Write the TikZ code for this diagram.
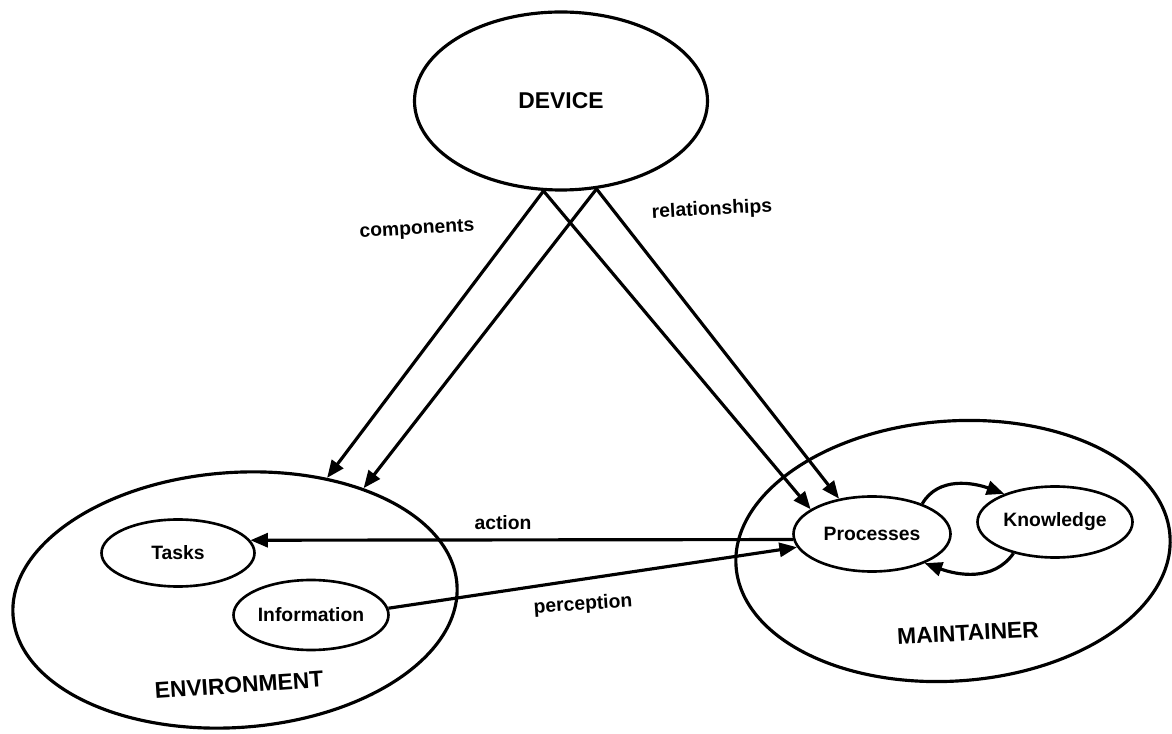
\documentclass[tikz,border=0pt]{standalone}
\usepackage{fontspec}
\setmainfont{Liberation Sans}
\usetikzlibrary{shapes.geometric, arrows.meta}

\begin{document}
\begin{tikzpicture}
\tikzstyle{realm} = [ellipse, draw=black, line width=1.8pt, inner sep=0pt, font=\bfseries\fontsize{13}{15}\selectfont]
\tikzstyle{part} = [ellipse, draw=black, line width=1.5pt, minimum width=3.1cm, minimum height=1.42cm, inner sep=0pt, font=\bfseries\fontsize{11}{13}\selectfont]
\tikzstyle{linktext} = [font=\bfseries\fontsize{11}{13}\selectfont]
\tikzstyle{realmtext} = [font=\bfseries\fontsize{13}{15}\selectfont]
\tikzstyle{arrow} = [line width=1.8pt,->,>={Triangle[length=10pt,width=8pt]}]

\useasboundingbox (0,0) rectangle (23.44,14.66);

\node (dev) [realm, minimum width=5.86cm, minimum height=3.56cm] at (11.22,12.64) {DEVICE};
\node (env) [realm, minimum width=8.9cm, minimum height=5.1cm, rotate=4] at (4.70,2.66) {};
\node (maint) [realm, minimum width=8.7cm, minimum height=5.2cm, rotate=4] at (19.06,3.64) {};

\node (tasks) [part, minimum width=3.06cm, minimum height=1.34cm] at (3.56,3.60) {Tasks};
\node (info) [part, minimum height=1.4cm] at (6.22,2.36) {Information};
\node (proc) [part, minimum width=3.14cm, minimum height=1.5cm] at (17.44,3.98) {Processes};
\node (know) [part] at (21.10,4.22) {Knowledge};

\node (envtext) [realmtext, rotate=4] at (4.78,0.96) {ENVIRONMENT};
\node (mainttext) [realmtext, rotate=3] at (19.36,2.0) {MAINTAINER};

\node (comptext) [linktext, rotate=3] at (8.34,10.06) {components};
\node (reltext) [linktext, rotate=3] at (14.24,10.46) {relationships};
\node (acttext) [linktext] at (10.06,4.20) {action};
\node (perctext) [linktext, rotate=4] at (11.66,2.56) {perception};

\draw [arrow] (dev.259) -- (env);
\draw [arrow] (dev.292) -- (env.37);
\draw [arrow] (dev.259) -- (proc.158);
\draw [arrow] (dev.292) -- (proc.133);
\draw [arrow] (proc.184) -- (tasks.10);
\draw [arrow] (info.5) -- (proc.190);
\draw [arrow] (proc.31) to[out=60,in=160] (know.151);
\draw [arrow] (know.217) to[out=235,in=340] (proc.331);
\end{tikzpicture}
\end{document}
